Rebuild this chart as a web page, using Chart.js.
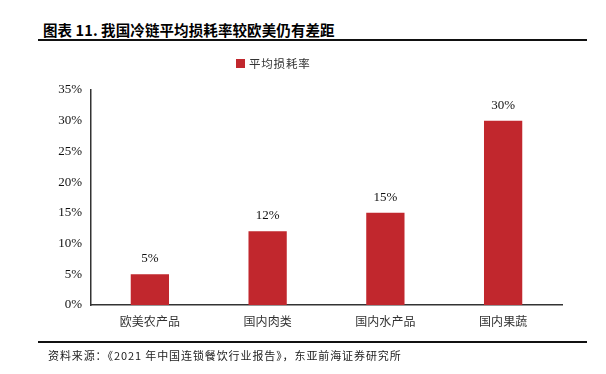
<!DOCTYPE html>
<html>
<head>
<meta charset="utf-8">
<script src="https://cdn.jsdelivr.net/npm/chart.js@4"></script>
<style>
  body { margin: 0; width: 606px; height: 374px; background: #fff; position: relative; overflow: hidden; }
  #title { position: absolute; left: 43px; top: 19px; font: bold 14.5px "Noto Sans CJK SC", sans-serif; color: #000; letter-spacing: 0.1px; white-space: nowrap; }
  .rule { position: absolute; left: 38px; width: 549px; height: 2px; background: #111; }
  #source { position: absolute; left: 48px; top: 347px; font: 11px "Noto Sans CJK SC", serif; color: #222; letter-spacing: 0.9px; white-space: nowrap; }
  #wrap { position: absolute; left: 0; top: 0; width: 606px; height: 374px; }
</style>
</head>
<body>
<div id="title">图表 11. 我国冷链平均损耗率较欧美仍有差距</div>
<div class="rule" style="top:39px"></div>
<div id="wrap"><canvas id="chart" width="606" height="374"></canvas></div>
<div class="rule" style="top:341px"></div>
<div id="source">资料来源：《2021 年中国连锁餐饮行业报告》，东亚前海证券研究所</div>
<script>
// chart data
const categories = ['欧美农产品', '国内肉类', '国内水产品', '国内果蔬'];
const lossRate = [5, 12, 15, 30];
const seriesName = '平均损耗率';
const barColor = '#C1272D';

// labels above the bars
const valueLabels = {
    id: 'valueLabels',
    afterDatasetsDraw(chart) {
        const ctx = chart.ctx;
        const meta = chart.getDatasetMeta(0);
        ctx.save();
        ctx.fillStyle = '#111';
        ctx.font = '13px "Liberation Serif", serif';
        ctx.textAlign = 'center';
        ctx.textBaseline = 'bottom';
        meta.data.forEach((bar, i) => {
            ctx.fillText(lossRate[i] + '%', bar.x, bar.y - 9);
        });
        ctx.restore();
    }
};

// legend drawn by hand so it can sit left of centre like the original
const simpleLegend = {
    id: 'simpleLegend',
    afterDraw(chart) {
        const ctx = chart.ctx;
        const ds = chart.data.datasets[0];
        ctx.save();
        ctx.fillStyle = ds.backgroundColor;
        ctx.fillRect(236, 59, 9, 9);
        ctx.fillStyle = '#333';
        ctx.font = '11.5px "Noto Sans CJK SC", sans-serif';
        ctx.letterSpacing = '0.8px';
        ctx.textBaseline = 'middle';
        ctx.fillText(ds.label, 249, 64);
        ctx.restore();
    }
};

new Chart(document.getElementById('chart'), {
    type: 'bar',
    data: {
        labels: categories,
        datasets: [{
            label: seriesName,
            data: lossRate,
            backgroundColor: barColor,
            categoryPercentage: 1,
            barPercentage: 0.325
        }]
    },
    options: {
        responsive: false,
        animation: false,
        layout: { padding: { left: 0, right: 44, top: 90, bottom: 38 } },
        plugins: {
            legend: { display: false },
            tooltip: { enabled: false }
        },
        scales: {
            x: {
                grid: { display: false, drawTicks: false },
                border: { color: '#333', width: 1.5 },
                ticks: { color: '#333', font: { family: '"Noto Sans CJK SC", serif', size: 12 }, padding: 9 },
                afterFit(scale) { scale.height = 31; }
            },
            y: {
                min: 0,
                max: 35,
                grid: { display: false, drawTicks: true, tickLength: 5, tickColor: '#333', drawOnChartArea: false },
                border: { color: '#333', width: 1.5 },
                ticks: {
                    stepSize: 5,
                    color: '#111',
                    padding: 4,
                    font: { family: '"Liberation Serif", serif', size: 13 },
                    callback: v => v + '%'
                },
                afterFit(scale) { scale.width = 91; }
            }
        }
    },
    plugins: [valueLabels, simpleLegend]
});
</script>
</body>
</html>
